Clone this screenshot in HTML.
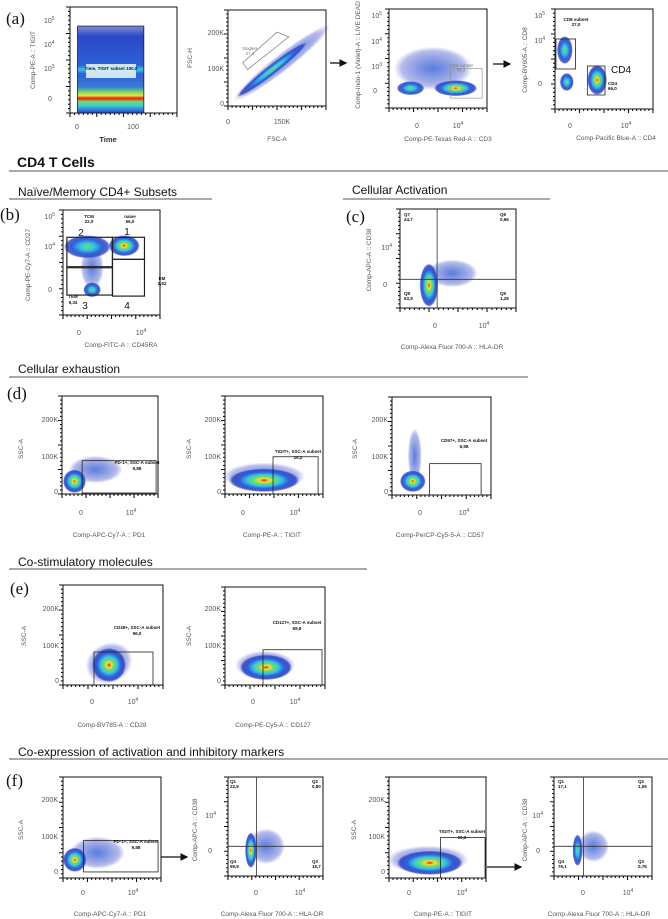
<!DOCTYPE html>
<html><head><meta charset="utf-8"><style>
html,body{margin:0;padding:0;background:#fff}
svg{display:block;font-family:"Liberation Sans",sans-serif}
.t{font-size:7px;fill:#555}
.al{font-size:6.5px;fill:#555}
.h{font-family:"Liberation Sans",sans-serif;fill:#111}
.pl{font-family:"Liberation Serif",serif;font-size:17px;fill:#111}
.gl{font-size:4.5px;fill:#111;font-weight:bold}
</style></head><body>
<svg id="fig" width="668" height="919" viewBox="0 0 668 919" xmlns="http://www.w3.org/2000/svg">
<defs>
<radialGradient id="hot"><stop offset="0" stop-color="#e8201c"/><stop offset="0.15" stop-color="#f4e03a"/><stop offset="0.3" stop-color="#6ede60"/><stop offset="0.48" stop-color="#36c6e6"/><stop offset="0.7" stop-color="#2f5fd8"/><stop offset="0.9" stop-color="#2c40c4" stop-opacity="0.85"/><stop offset="1" stop-color="#2c40c4" stop-opacity="0"/></radialGradient>
<radialGradient id="warm"><stop offset="0" stop-color="#6ede60"/><stop offset="0.3" stop-color="#36c6e6"/><stop offset="0.65" stop-color="#2f5fd8"/><stop offset="0.9" stop-color="#2c40c4" stop-opacity="0.8"/><stop offset="1" stop-color="#2c40c4" stop-opacity="0"/></radialGradient>
<radialGradient id="cool"><stop offset="0" stop-color="#2f5fd8" stop-opacity="0.8"/><stop offset="0.8" stop-color="#2c40c4" stop-opacity="0.35"/><stop offset="1" stop-color="#2c40c4" stop-opacity="0"/></radialGradient>
<linearGradient id="bands" x1="0" y1="0" x2="0" y2="1"><stop offset="0" stop-color="#2c40c4" stop-opacity="0.6"/><stop offset="0.12" stop-color="#2c48c8"/><stop offset="0.45" stop-color="#2f5fd8"/><stop offset="0.5" stop-color="#36c6e6"/><stop offset="0.55" stop-color="#2f5fd8"/><stop offset="0.7" stop-color="#3a7ad8"/><stop offset="0.76" stop-color="#6ede60"/><stop offset="0.8" stop-color="#f4e03a"/><stop offset="0.83" stop-color="#e8201c"/><stop offset="0.87" stop-color="#6ede60"/><stop offset="0.92" stop-color="#36c6e6"/><stop offset="1" stop-color="#2c40c4"/></linearGradient>
<marker id="arr" markerWidth="6" markerHeight="6" refX="5" refY="3" orient="auto"><path d="M0,0 L6,3 L0,6 z" fill="#111"/></marker>
</defs>
<g id="layer"></g>

<text class="pl" x="6" y="24">(a)</text>
<text class="pl" x="0" y="220">(b)</text>
<text class="pl" x="346" y="222">(c)</text>
<text class="pl" x="7" y="399">(d)</text>
<text class="pl" x="10" y="594">(e)</text>
<text class="pl" x="6" y="786">(f)</text>

<text class="h" x="17" y="167" font-size="14" font-weight="bold">CD4 T Cells</text>
<line x1="9" y1="171" x2="668" y2="171" stroke="#555"/>
<text class="h" x="18" y="196" font-size="12">Naïve/Memory CD4+ Subsets</text>
<line x1="9" y1="199" x2="212" y2="199" stroke="#555"/>
<text class="h" x="352" y="194" font-size="12">Cellular Activation</text>
<line x1="343" y1="199" x2="550" y2="199" stroke="#555"/>
<text class="h" x="18" y="373" font-size="12">Cellular exhaustion</text>
<line x1="9" y1="377" x2="528" y2="377" stroke="#555"/>
<text class="h" x="18" y="566" font-size="12">Co-stimulatory molecules</text>
<line x1="9" y1="569" x2="367" y2="569" stroke="#555"/>
<text class="h" x="18" y="756" font-size="12">Co-expression of activation and inhibitory markers</text>
<line x1="9" y1="759" x2="668" y2="759" stroke="#555"/>

<g stroke="#111" stroke-width="1.3" fill="none">
<line x1="330" y1="63" x2="346" y2="63" marker-end="url(#arr)"/>
<line x1="493" y1="64" x2="510" y2="64" marker-end="url(#arr)"/>
<line x1="161" y1="857" x2="187" y2="857" marker-end="url(#arr)"/>
<line x1="487" y1="867" x2="521" y2="867" marker-end="url(#arr)"/>
</g>

<!-- a1 -->
<g class="t"><text x="44" y="23">10<tspan font-size="5" dy="-3">5</tspan></text><text x="44" y="47">10<tspan font-size="5" dy="-3">4</tspan></text><text x="44" y="71">10<tspan font-size="5" dy="-3">3</tspan></text><text x="48" y="101">0</text></g>
<text class="al" transform="translate(35,60) rotate(-90)" text-anchor="middle">Comp-PE-A :: TIGIT</text>
<text class="t" x="77" y="129" text-anchor="middle">0</text>
<text class="t" x="133" y="129" text-anchor="middle">100</text>
<text x="108" y="142" font-size="7.5" fill="#333" font-weight="bold" text-anchor="middle">Time</text>
<!-- a2 -->
<g class="t" text-anchor="end"><text x="224" y="35">200K</text><text x="224" y="71">100K</text><text x="224" y="106">0</text></g>
<text class="al" transform="translate(192,58) rotate(-90)" text-anchor="middle">FSC-H</text>
<text class="t" x="228" y="124" text-anchor="middle">0</text>
<text class="t" x="282" y="124" text-anchor="middle">150K</text>
<text class="al" x="277" y="141" text-anchor="middle">FSC-A</text>
<text x="250" y="50" font-size="4.5" fill="#777" text-anchor="middle"><tspan>Singlets</tspan><tspan x="250" dy="5">27,3</tspan></text>
<!-- a3 -->
<g class="t" text-anchor="end"><text x="382" y="18">10<tspan font-size="5" dy="-3">5</tspan></text><text x="382" y="44">10<tspan font-size="5" dy="-3">4</tspan></text><text x="382" y="69">10<tspan font-size="5" dy="-3">3</tspan></text><text x="377" y="93">0</text></g>
<text class="al" transform="translate(360,55) rotate(-90)" text-anchor="middle">Comp-Indo-1 (Violet)-A :: LIVE DEAD</text>
<text x="461" y="67" font-size="4.5" fill="#777" text-anchor="middle"><tspan>CD3 subset</tspan><tspan x="461" dy="5">78,7</tspan></text>
<text class="t" x="417" y="128" text-anchor="middle">0</text>
<text class="t" x="458" y="128" text-anchor="middle">10<tspan font-size="5" dy="-3">4</tspan></text>
<text class="al" x="448" y="141" text-anchor="middle">Comp-PE-Texas Red-A :: CD3</text>
<!-- a4 -->
<g class="t" text-anchor="end"><text x="545" y="18">10<tspan font-size="5" dy="-3">5</tspan></text><text x="545" y="43">10<tspan font-size="5" dy="-3">4</tspan></text><text x="542" y="86">0</text></g>
<text class="al" transform="translate(527,60) rotate(-90)" text-anchor="middle">Comp-BV605-A :: CD8</text>
<text class="gl" x="576" y="21" text-anchor="middle"><tspan>CD8 subset</tspan><tspan x="576" dy="5">27,0</tspan></text>
<text x="611" y="73" font-size="10" fill="#111">CD4</text>
<text class="gl" x="608" y="85"><tspan>CD4</tspan><tspan x="608" dy="5">66,0</tspan></text>
<text class="t" x="570" y="128" text-anchor="middle">0</text>
<text class="t" x="626" y="128" text-anchor="middle">10<tspan font-size="5" dy="-3">4</tspan></text>
<text class="al" x="616" y="140" text-anchor="middle">Comp-Pacific Blue-A :: CD4</text>
<!-- b -->
<g class="t" text-anchor="end"><text x="55" y="219">10<tspan font-size="5" dy="-3">5</tspan></text><text x="55" y="249">10<tspan font-size="5" dy="-3">4</tspan></text><text x="52" y="292">0</text></g>
<text class="al" transform="translate(30,265) rotate(-90)" text-anchor="middle">Comp-PE-Cy7-A :: CD27</text>
<g class="gl" text-anchor="middle"><text x="89" y="218">TCM</text><text x="89" y="223">22,0</text><text x="130" y="218">naive</text><text x="130" y="223">66,0</text><text x="162" y="280">EM</text><text x="162" y="285">1,52</text><text x="73" y="298">TEM</text><text x="73" y="304">9,34</text></g>
<g font-size="10" fill="#111" text-anchor="middle"><text x="81" y="236">2</text><text x="127" y="235">1</text><text x="85" y="309">3</text><text x="127" y="309">4</text></g>
<text class="t" x="79" y="335" text-anchor="middle">0</text>
<text class="t" x="141" y="335" text-anchor="middle">10<tspan font-size="5" dy="-3">4</tspan></text>
<text class="al" x="121" y="347" text-anchor="middle">Comp-FITC-A :: CD45RA</text>
<!-- c -->
<g class="t" text-anchor="end"><text x="392" y="250">10<tspan font-size="5" dy="-3">4</tspan></text><text x="387" y="287">0</text></g>
<text class="al" transform="translate(371,260) rotate(-90)" text-anchor="middle">Comp-APC-A :: CD38</text>
<g class="gl"><text x="404" y="216">Q7</text><text x="404" y="221">24,7</text><text x="500" y="216">Q6</text><text x="500" y="221">0,66</text><text x="404" y="295">Q8</text><text x="404" y="300">63,9</text><text x="500" y="295">Q5</text><text x="500" y="300">1,28</text></g>
<text class="t" x="435" y="328" text-anchor="middle">0</text>
<text class="t" x="484" y="328" text-anchor="middle">10<tspan font-size="5" dy="-3">4</tspan></text>
<text class="al" x="452" y="349" text-anchor="middle">Comp-Alexa Fluor 700-A :: HLA-DR</text>

<!-- d -->
<g class="t" text-anchor="end">
<text x="58" y="422">200K</text><text x="58" y="459">100K</text><text x="58" y="494">0</text>
<text x="221" y="422">200K</text><text x="221" y="459">100K</text><text x="221" y="494">0</text>
<text x="388" y="422">200K</text><text x="388" y="459">100K</text><text x="388" y="494">0</text></g>
<g class="al" text-anchor="middle">
<text transform="translate(23,449) rotate(-90)">SSC-A</text><text transform="translate(191,449) rotate(-90)">SSC-A</text><text transform="translate(357,449) rotate(-90)">SSC-A</text></g>
<g class="gl" text-anchor="middle">
<text x="137" y="464">PD-1+, SSC-A subset</text><text x="137" y="470">9,88</text>
<text x="298" y="453">TIGIT+, SSC-A subset</text><text x="298" y="459">10,2</text>
<text x="464" y="442">CD57+, SSC-A subset</text><text x="464" y="448">6,98</text></g>
<g class="t" text-anchor="middle">
<text x="81" y="515">0</text><text x="131" y="515">10<tspan font-size="5" dy="-3">4</tspan></text>
<text x="243" y="515">0</text><text x="295" y="515">10<tspan font-size="5" dy="-3">4</tspan></text>
<text x="420" y="515">0</text><text x="464" y="515">10<tspan font-size="5" dy="-3">4</tspan></text></g>
<g class="al" text-anchor="middle">
<text x="109" y="537">Comp-APC-Cy7-A :: PD1</text><text x="272" y="537">Comp-PE-A :: TIGIT</text><text x="440" y="537">Comp-PerCP-Cy5-5-A :: CD57</text></g>
<!-- e -->
<g class="t" text-anchor="end">
<text x="59" y="611">200K</text><text x="59" y="648">100K</text><text x="59" y="683">0</text>
<text x="221" y="611">200K</text><text x="221" y="648">100K</text><text x="221" y="683">0</text></g>
<g class="al" text-anchor="middle">
<text transform="translate(26,636) rotate(-90)">SSC-A</text><text transform="translate(191,636) rotate(-90)">SSC-A</text></g>
<g class="gl" text-anchor="middle">
<text x="137" y="629">CD28+, SSC-A subset</text><text x="137" y="635">96,0</text>
<text x="297" y="624">CD127+, SSC-A subset</text><text x="297" y="630">69,8</text></g>
<g class="t" text-anchor="middle">
<text x="92" y="704">0</text><text x="133" y="704">10<tspan font-size="5" dy="-3">4</tspan></text>
<text x="253" y="704">0</text><text x="295" y="704">10<tspan font-size="5" dy="-3">4</tspan></text></g>
<g class="al" text-anchor="middle">
<text x="112" y="727">Comp-BV785-A :: CD28</text><text x="273" y="727">Comp-PE-Cy5-A :: CD127</text></g>
<!-- f -->
<g class="t" text-anchor="end">
<text x="58" y="802">200K</text><text x="58" y="839">100K</text><text x="58" y="874">0</text>
<text x="216" y="818">10<tspan font-size="5" dy="-3">4</tspan></text><text x="212" y="853">0</text>
<text x="385" y="802">200K</text><text x="385" y="839">100K</text><text x="385" y="874">0</text>
<text x="543" y="818">10<tspan font-size="5" dy="-3">4</tspan></text><text x="540" y="853">0</text></g>
<g class="al" text-anchor="middle">
<text transform="translate(23,830) rotate(-90)">SSC-A</text><text transform="translate(197,830) rotate(-90)">Comp-APC-A :: CD38</text>
<text transform="translate(356,830) rotate(-90)">SSC-A</text><text transform="translate(527,830) rotate(-90)">Comp-APC-A :: CD38</text></g>
<g class="gl">
<text x="230" y="783">Q1</text><text x="230" y="788">22,5</text><text x="312" y="783">Q2</text><text x="312" y="788">0,80</text>
<text x="230" y="863">Q4</text><text x="230" y="868">59,9</text><text x="312" y="863">Q3</text><text x="312" y="868">16,7</text>
<text x="558" y="783">Q1</text><text x="558" y="788">17,1</text><text x="638" y="783">Q2</text><text x="638" y="788">1,06</text>
<text x="558" y="863">Q4</text><text x="558" y="868">76,1</text><text x="638" y="863">Q3</text><text x="638" y="868">0,76</text></g>
<g class="gl" text-anchor="middle">
<text x="136" y="843">PD-1+, SSC-A subset</text><text x="136" y="849">9,88</text>
<text x="462" y="833">TIGIT+, SSC-A subset</text><text x="462" y="839">10,2</text></g>
<g class="t" text-anchor="middle">
<text x="83" y="895">0</text><text x="133" y="895">10<tspan font-size="5" dy="-3">4</tspan></text>
<text x="256" y="895">0</text><text x="300" y="895">10<tspan font-size="5" dy="-3">4</tspan></text>
<text x="409" y="895">0</text><text x="462" y="895">10<tspan font-size="5" dy="-3">4</tspan></text>
<text x="583" y="895">0</text><text x="628" y="895">10<tspan font-size="5" dy="-3">4</tspan></text></g>
<g class="al" text-anchor="middle">
<text x="110" y="916">Comp-APC-Cy7-A :: PD1</text><text x="272" y="916">Comp-Alexa Fluor 700-A :: HLA-DR</text>
<text x="443" y="916">Comp-PE-A :: TIGIT</text><text x="599" y="916">Comp-Alexa Fluor 700-A :: HLA-DR</text></g>
</svg>
<script>
// ---- data: density cluster centres (fraction of axis range, y from bottom) ----
const plotIds   = ['a1','a2','a3','a4','b','c','d1','d2','d3','e1','e2','f1','f2','f3','f4'];
const clusterPlot = ['a2','a2','a3','a3','a3','a4','a4','a4','b','b','b','b','c','c','d1','d1','d2','d2','d3','d3','e1','e1','e2','e2','f1','f1','f2','f2','f3','f3','f4','f4'];
const clusterX    = [0.55,0.45,0.45,0.22,0.68,0.1,0.12,0.43,0.3,0.25,0.3,0.63,0.45,0.25,0.35,0.13,0.4,0.4,0.23,0.21,0.46,0.46,0.4,0.41,0.35,0.12,0.4,0.24,0.4,0.42,0.4,0.24];
const clusterY    = [0.45,0.38,0.4,0.2,0.2,0.59,0.27,0.29,0.45,0.65,0.24,0.66,0.35,0.23,0.25,0.13,0.18,0.14,0.4,0.14,0.22,0.2,0.2,0.18,0.25,0.18,0.3,0.26,0.18,0.15,0.3,0.26];
const clusterRx   = [0.62,0.45,0.4,0.14,0.22,0.08,0.07,0.1,0.12,0.24,0.09,0.16,0.22,0.08,0.28,0.12,0.42,0.36,0.07,0.13,0.24,0.17,0.3,0.26,0.28,0.12,0.2,0.06,0.42,0.34,0.16,0.05];
const clusterRy   = [0.09,0.05,0.22,0.07,0.08,0.14,0.09,0.15,0.2,0.11,0.07,0.1,0.14,0.22,0.14,0.12,0.14,0.12,0.28,0.11,0.2,0.17,0.15,0.13,0.16,0.12,0.18,0.18,0.14,0.12,0.16,0.16];
const clusterRot  = [-38,-38,0,0,0,0,0,0,0,0,0,0,0,0,0,0,0,0,0,0,-25,-25,0,0,0,0,0,0,0,0,0,0];
const clusterHeat = ['cool','warm','cool','warm','hot','warm','warm','hot','cool','warm','warm','hot','cool','hot','cool','hot','cool','hot','cool','hot','cool','hot','cool','hot','cool','hot','cool','hot','cool','hot','cool','warm'];
// gates: rectangles in fractions (y from bottom)
const gatePlot = ['a1','a4','a4','b','b','b','b','d1','d2','d3','e1','e2','f1','f3'];
const gateX0 = [0.07,0.01,0.33,0.51,0.04,0.04,0.51,0.21,0.49,0.38,0.31,0.38,0.21,0.53];
const gateX1 = [0.69,0.21,0.51,0.84,0.51,0.51,0.84,0.98,0.95,0.9,0.9,0.97,0.97,0.99];
const gateY0 = [0,0.4,0.14,0.53,0.46,0.19,0.18,0.01,0,0,0,0,0.06,0];
const gateY1 = [0.82,0.7,0.43,0.74,0.74,0.45,0.53,0.34,0.38,0.32,0.33,0.36,0.37,0.4];
// quadrant split lines (fraction)
const quadPlot = ['c','f2','f4'];
const quadX = [0.32,0.3,0.3];
const quadY = [0.29,0.3,0.3];

const NS='http://www.w3.org/2000/svg';
const L=document.getElementById('layer');
function mk(tag,attrs){const e=document.createElementNS(NS,tag);for(const k in attrs)e.setAttribute(k,attrs[k]);L.appendChild(e);return e;}
const frames={a1:[70,7,177,113],a2:[228,10,326,106],a3:[389,9,487,108],a4:[555,9,653,109],b:[63,210,160,315],c:[400,209,516,308],d1:[62,396,158,494],d2:[225,396,323,494],d3:[392,397,491,495],e1:[63,585,163,685],e2:[225,587,325,685],f1:[63,777,161,878],f2:[228,777,323,876],f3:[389,777,486,878],f4:[554,777,652,876]};
function sx(p,f){const r=frames[p];return r[0]+f*(r[2]-r[0]);}
function sy(p,f){const r=frames[p];return r[3]-f*(r[3]-r[1]);}

let e=mk('rect',{x:sx('a1',0.07),y:sy('a1',0.82),width:sx('a1',0.69)-sx('a1',0.07),height:sy('a1',0)-sy('a1',0.82),fill:'url(#bands)'});



for(let i=0;i<clusterPlot.length;i++){
 const p=clusterPlot[i];const r=frames[p];
 const cx=sx(p,clusterX[i]),cy=sy(p,clusterY[i]);
 const c=mk('ellipse',{cx:cx,cy:cy,rx:clusterRx[i]*(r[2]-r[0]),ry:clusterRy[i]*(r[3]-r[1]),fill:'url(#'+clusterHeat[i]+')',transform:'rotate('+clusterRot[i]+' '+cx+' '+cy+')'});
 
 
}
for(const p of plotIds){
 const r=frames[p];
 const f=mk('rect',{x:r[0],y:r[1],width:r[2]-r[0],height:r[3]-r[1],fill:'none',stroke:'#111','stroke-width':1});
 
 
 let d='';
 for(let k=0;k<=24;k++){const x=r[0]+k*(r[2]-r[0])/24;const len=(k%6===0)?4:2;d+='M'+x+' '+r[3]+'v'+len;}
 for(let k=0;k<=24;k++){const y=r[1]+k*(r[3]-r[1])/24;const len=(k%6===0)?4:2;d+='M'+r[0]+' '+y+'h-'+len;}
 const t=mk('path',{d:d,stroke:'#111','stroke-width':1.1});
 
 
}
for(let i=0;i<gatePlot.length;i++){
 const p=gatePlot[i];
 const g=mk('rect',{x:sx(p,gateX0[i]),y:sy(p,gateY1[i]),width:sx(p,gateX1[i])-sx(p,gateX0[i]),height:sy(p,gateY0[i])-sy(p,gateY1[i]),fill:'none',stroke:'#222','stroke-width':(p==='b'?1.2:0.8)});
 
 
}
for(let i=0;i<quadPlot.length;i++){
 const p=quadPlot[i];const r=frames[p];
 const q=mk('path',{d:'M'+sx(p,quadX[i])+' '+r[1]+'V'+r[3]+'M'+r[0]+' '+sy(p,quadY[i])+'H'+r[2],stroke:'#333','stroke-width':0.8,fill:'none'});
 
 
}
e=mk('path',{d:'M'+sx('a2',0.15)+' '+sy('a2',0.45)+'L'+sx('a2',0.5)+' '+sy('a2',0.77)+'L'+sx('a2',0.62)+' '+sy('a2',0.72)+'L'+sx('a2',0.2)+' '+sy('a2',0.38)+'Z',fill:'none',stroke:'#777','stroke-width':0.7});


e=mk('rect',{x:sx('a3',0.63),y:sy('a3',0.4),width:sx('a3',0.95)-sx('a3',0.63),height:sy('a3',0.1)-sy('a3',0.4),fill:'none',stroke:'#888','stroke-width':0.6});


// a1 gate label box on top
e=mk('rect',{x:86,y:64,width:50,height:14,fill:'#dff2fb',opacity:0.9});


e=mk('text',{x:111,y:70,'text-anchor':'middle','class':'gl'});
e.textContent='Time, TIGIT subset 100,0';


</script>
</body></html>
